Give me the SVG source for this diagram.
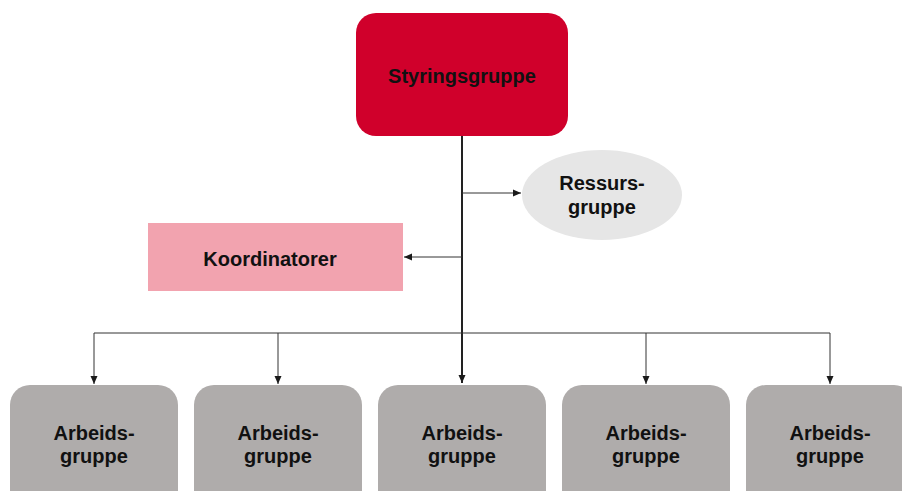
<svg xmlns="http://www.w3.org/2000/svg" width="902" height="491" viewBox="0 0 902 491">
<defs>
<marker id="ah" viewBox="0 0 8 8" refX="8" refY="4" markerWidth="8" markerHeight="8" markerUnits="userSpaceOnUse" orient="auto">
<path d="M0,0.5 L8,4 L0,7.5 z" fill="#1a1a1a"/>
</marker>
<style>
text{font-family:"Liberation Sans",Arial,sans-serif;font-weight:bold;fill:#111;text-anchor:middle}
.t{font-size:20px}
.c{fill:none;stroke:#333;stroke-width:1}
.work{fill:#AFACAB}
</style>
</defs>
<rect width="902" height="491" fill="#fff"/>
<g id="connectors">
<line x1="462" y1="136" x2="462" y2="383" stroke="#222" stroke-width="2" marker-end="url(#ah)"/>
<line class="c" x1="462" y1="193" x2="521" y2="193" marker-end="url(#ah)"/>
<line class="c" x1="462" y1="257" x2="404" y2="257" marker-end="url(#ah)"/>
<line class="c" x1="94" y1="333" x2="830" y2="333"/>
<line class="c" x1="94" y1="333" x2="94" y2="384" marker-end="url(#ah)"/>
<line class="c" x1="278" y1="333" x2="278" y2="384" marker-end="url(#ah)"/>
<line class="c" x1="646" y1="333" x2="646" y2="384" marker-end="url(#ah)"/>
<line class="c" x1="830" y1="333" x2="830" y2="384" marker-end="url(#ah)"/>
</g>
<g id="styringsgruppe">
<rect x="356" y="13" width="212" height="123" rx="20" fill="#D0002B"/>
<text class="t" x="462" y="83">Styringsgruppe</text>
</g>
<g id="ressursgruppe">
<ellipse cx="602" cy="195" rx="80" ry="45" fill="#E6E6E6"/>
<text class="t" x="602" y="190">Ressurs-</text>
<text class="t" x="602" y="214">gruppe</text>
</g>
<g id="koordinatorer">
<rect x="148" y="223" width="255" height="68" fill="#F2A3AF"/>
<text class="t" x="270" y="266">Koordinatorer</text>
</g>
<g id="arbeidsgruppe1">
<rect class="work" x="10" y="385" width="168" height="130" rx="20"/>
<text class="t" x="94" y="440">Arbeids-</text>
<text class="t" x="94" y="463">gruppe</text>
</g>
<g id="arbeidsgruppe2">
<rect class="work" x="194" y="385" width="168" height="130" rx="20"/>
<text class="t" x="278" y="440">Arbeids-</text>
<text class="t" x="278" y="463">gruppe</text>
</g>
<g id="arbeidsgruppe3">
<rect class="work" x="378" y="385" width="168" height="130" rx="20"/>
<text class="t" x="462" y="440">Arbeids-</text>
<text class="t" x="462" y="463">gruppe</text>
</g>
<g id="arbeidsgruppe4">
<rect class="work" x="562" y="385" width="168" height="130" rx="20"/>
<text class="t" x="646" y="440">Arbeids-</text>
<text class="t" x="646" y="463">gruppe</text>
</g>
<g id="arbeidsgruppe5">
<rect class="work" x="746" y="385" width="168" height="130" rx="20"/>
<text class="t" x="830" y="440">Arbeids-</text>
<text class="t" x="830" y="463">gruppe</text>
</g>
</svg>
